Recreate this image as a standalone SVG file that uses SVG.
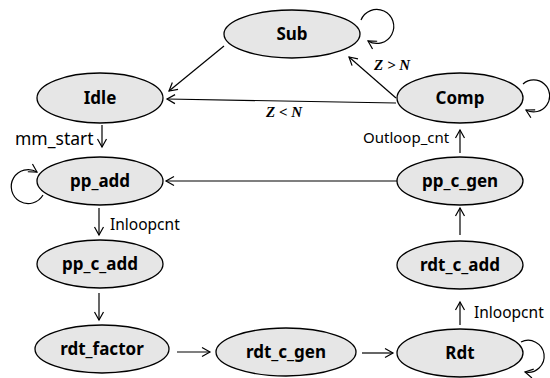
<svg xmlns="http://www.w3.org/2000/svg" width="550" height="378" viewBox="0 0 550 378">
<defs>
<marker id="ah" markerUnits="userSpaceOnUse" markerWidth="12" markerHeight="12" refX="10" refY="6" orient="auto">
<path d="M2,1.5 L10,6 L2,10.5" fill="none" stroke="#000" stroke-width="1.2"/>
</marker>
</defs>
<style>
.n ellipse{fill:#e6e6e6;stroke:#000;stroke-width:1.3}
.n text{font-family:"Noto Sans","Open Sans",sans-serif;font-weight:bold;font-size:17px;text-anchor:middle;fill:#000}
.c path,.c line{fill:none;stroke:#000;stroke-width:1.2;marker-end:url(#ah)}
.lbl{font-family:"Noto Sans","Open Sans",sans-serif;font-size:15.5px;fill:#000}
.m{font-family:"Liberation Serif",serif;font-weight:bold;font-style:italic;font-size:15px;fill:#000}
</style>
<rect width="550" height="378" fill="#fff"/>
<g class="c" id="connectors">
<path d="M361,20 A17,17 0 1 1 368,41"/>
<path d="M523,84 A16,16 0 1 1 526,110"/>
<path d="M521,342 A16,16 0 1 1 525,372"/>
<path d="M43,195 A17,17 0 1 1 37,172"/>
<line x1="224" y1="46" x2="169" y2="91"/>
<line x1="396" y1="103" x2="167" y2="99"/>
<line x1="396" y1="98" x2="349" y2="57"/>
<line x1="102" y1="125" x2="102" y2="147"/>
<line x1="397" y1="181" x2="166" y2="181"/>
<line x1="99" y1="208" x2="99" y2="235"/>
<line x1="99" y1="293" x2="99" y2="320"/>
<line x1="177" y1="352" x2="210" y2="352"/>
<line x1="362" y1="353" x2="393" y2="353"/>
<line x1="460" y1="325" x2="460" y2="302"/>
<line x1="460" y1="235" x2="460" y2="208"/>
<line x1="460" y1="153" x2="460" y2="130"/>
<text class="m" x="266" y="117">Z &lt; N</text>
<text class="m" x="374" y="70">Z &gt; N</text>
<text class="lbl" x="15" y="145" style="font-size:17.5px">mm_start</text>
<text class="lbl" x="110" y="230">Inloopcnt</text>
<text class="lbl" x="474" y="318">Inloopcnt</text>
<text class="lbl" x="363" y="143" style="font-size:15px">Outloop_cnt</text>
</g>
<g class="n" id="Sub"><ellipse cx="292" cy="34" rx="68" ry="24"/><text x="292" y="40">Sub</text></g>
<g class="n" id="Idle"><ellipse cx="100" cy="98" rx="63" ry="25"/><text x="100" y="104">Idle</text></g>
<g class="n" id="Comp"><ellipse cx="460" cy="98" rx="63" ry="25"/><text x="460" y="104">Comp</text></g>
<g class="n" id="pp_add"><ellipse cx="100" cy="181" rx="63" ry="24"/><text x="100" y="187">pp_add</text></g>
<g class="n" id="pp_c_gen"><ellipse cx="460" cy="181" rx="63" ry="24"/><text x="460" y="187">pp_c_gen</text></g>
<g class="n" id="pp_c_add"><ellipse cx="100" cy="264" rx="63" ry="24"/><text x="100" y="270">pp_c_add</text></g>
<g class="n" id="rdt_c_add"><ellipse cx="460" cy="265" rx="63" ry="24"/><text x="460" y="271">rdt_c_add</text></g>
<g class="n" id="rdt_factor"><ellipse cx="102" cy="349" rx="67" ry="24"/><text x="102" y="355">rdt_factor</text></g>
<g class="n" id="rdt_c_gen"><ellipse cx="286" cy="352" rx="70" ry="24"/><text x="286" y="358">rdt_c_gen</text></g>
<g class="n" id="Rdt"><ellipse cx="460" cy="353" rx="63" ry="24"/><text x="460" y="359">Rdt</text></g>
</svg>
